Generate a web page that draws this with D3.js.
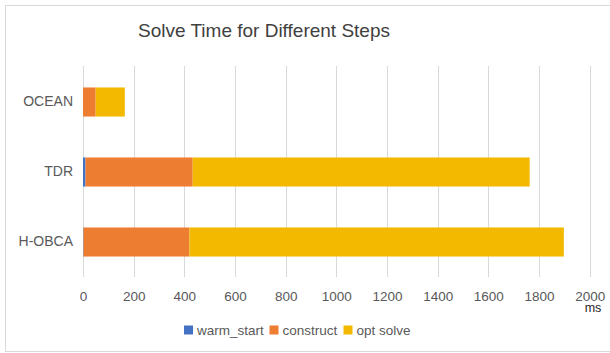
<!DOCTYPE html>
<html>
<head>
<meta charset="utf-8">
<script src="https://cdn.jsdelivr.net/npm/d3@7"></script>
<style>
  html, body { margin: 0; padding: 0; background: #fff; }
  svg { display: block; font-family: "Liberation Sans", Arial, sans-serif; }
</style>
</head>
<body>
<svg id="chart" width="610" height="353"></svg>
<script>
// Solve time (ms) per step for each planner
const categories = ["OCEAN", "TDR", "H-OBCA"];
const seriesNames = ["warm_start", "construct", "opt solve"];
const warmStart = [0, 10, 2];
const construct = [50, 423, 418];
const optSolve = [115, 1330, 1478];
const xTicks = [0, 200, 400, 600, 800, 1000, 1200, 1400, 1600, 1800, 2000];
const colors = ["#4472C4", "#ED7D31", "#F3B900"];

const rows = categories.map((c, i) => ({
  name: c,
  "warm_start": warmStart[i],
  "construct": construct[i],
  "opt solve": optSolve[i]
}));

const svg = d3.select("#chart");
const W = 610, H = 353;
const plot = { left: 83, right: 589.7, top: 67, bottom: 277 };

// outer frame
svg.append("rect")
  .attr("x", 5.5).attr("y", 5.5)
  .attr("width", W + 10).attr("height", 346)
  .attr("fill", "#fff").attr("stroke", "#d9d9d9").attr("stroke-width", 1);

// title
svg.append("text")
  .attr("x", 264).attr("y", 37)
  .attr("text-anchor", "middle")
  .attr("font-size", 19)
  .attr("fill", "#404040")
  .text("Solve Time for Different Steps");

const x = d3.scaleLinear().domain([0, 2000]).range([plot.left, plot.right]);
const y = d3.scaleBand().domain(categories).range([plot.top, plot.bottom]).paddingInner(0.585).paddingOuter(0.2925);

// vertical gridlines
svg.append("g")
  .selectAll("line")
  .data(xTicks)
  .join("line")
  .attr("x1", d => Math.round(x(d)) + 0.5)
  .attr("x2", d => Math.round(x(d)) + 0.5)
  .attr("y1", plot.top - 1)
  .attr("y2", plot.bottom)
  .attr("stroke", "#d9d9d9")
  .attr("stroke-width", 1);

// x axis tick labels
const xAxis = d3.axisBottom(x).tickValues(xTicks).tickSize(0).tickPadding(0).tickFormat(d3.format("d"));
const gx = svg.append("g").attr("transform", `translate(0,${plot.bottom})`).call(xAxis);
gx.select(".domain").remove();
gx.selectAll("text")
  .attr("y", 24).attr("dy", null)
  .attr("font-size", 13.5)
  .attr("font-family", "Liberation Sans, Arial, sans-serif")
  .attr("fill", "#595959");

// unit label
svg.append("text")
  .attr("x", 593).attr("y", 312)
  .attr("text-anchor", "middle")
  .attr("font-size", 12.5)
  .attr("fill", "#262626")
  .text("ms");

// y axis category labels
const yAxis = d3.axisLeft(y).tickSize(0).tickPadding(10);
const gy = svg.append("g").attr("transform", `translate(${plot.left},0)`).call(yAxis);
gy.select(".domain").remove();
gy.selectAll("text")
  .attr("font-size", 14)
  .attr("font-family", "Liberation Sans, Arial, sans-serif")
  .attr("fill", "#595959");

// stacked bars
const stack = d3.stack().keys(seriesNames);
const layers = stack(rows);
svg.append("g")
  .selectAll("g")
  .data(layers)
  .join("g")
  .attr("fill", (d, i) => colors[i])
  .selectAll("rect")
  .data(d => d)
  .join("rect")
  .attr("x", d => x(d[0]))
  .attr("y", d => y(d.data.name))
  .attr("width", d => Math.max(0, x(d[1]) - x(d[0])))
  .attr("height", y.bandwidth());

// legend
const legendX = [184, 269.5, 343.5];
const lg = svg.append("g");
seriesNames.forEach((s, i) => {
  lg.append("rect")
    .attr("x", legendX[i]).attr("y", 325.5)
    .attr("width", 9).attr("height", 9)
    .attr("fill", colors[i]);
  lg.append("text")
    .attr("x", legendX[i] + 13).attr("y", 335)
    .attr("font-size", 13.5)
    .attr("fill", "#595959")
    .text(s);
});
</script>
</body>
</html>
